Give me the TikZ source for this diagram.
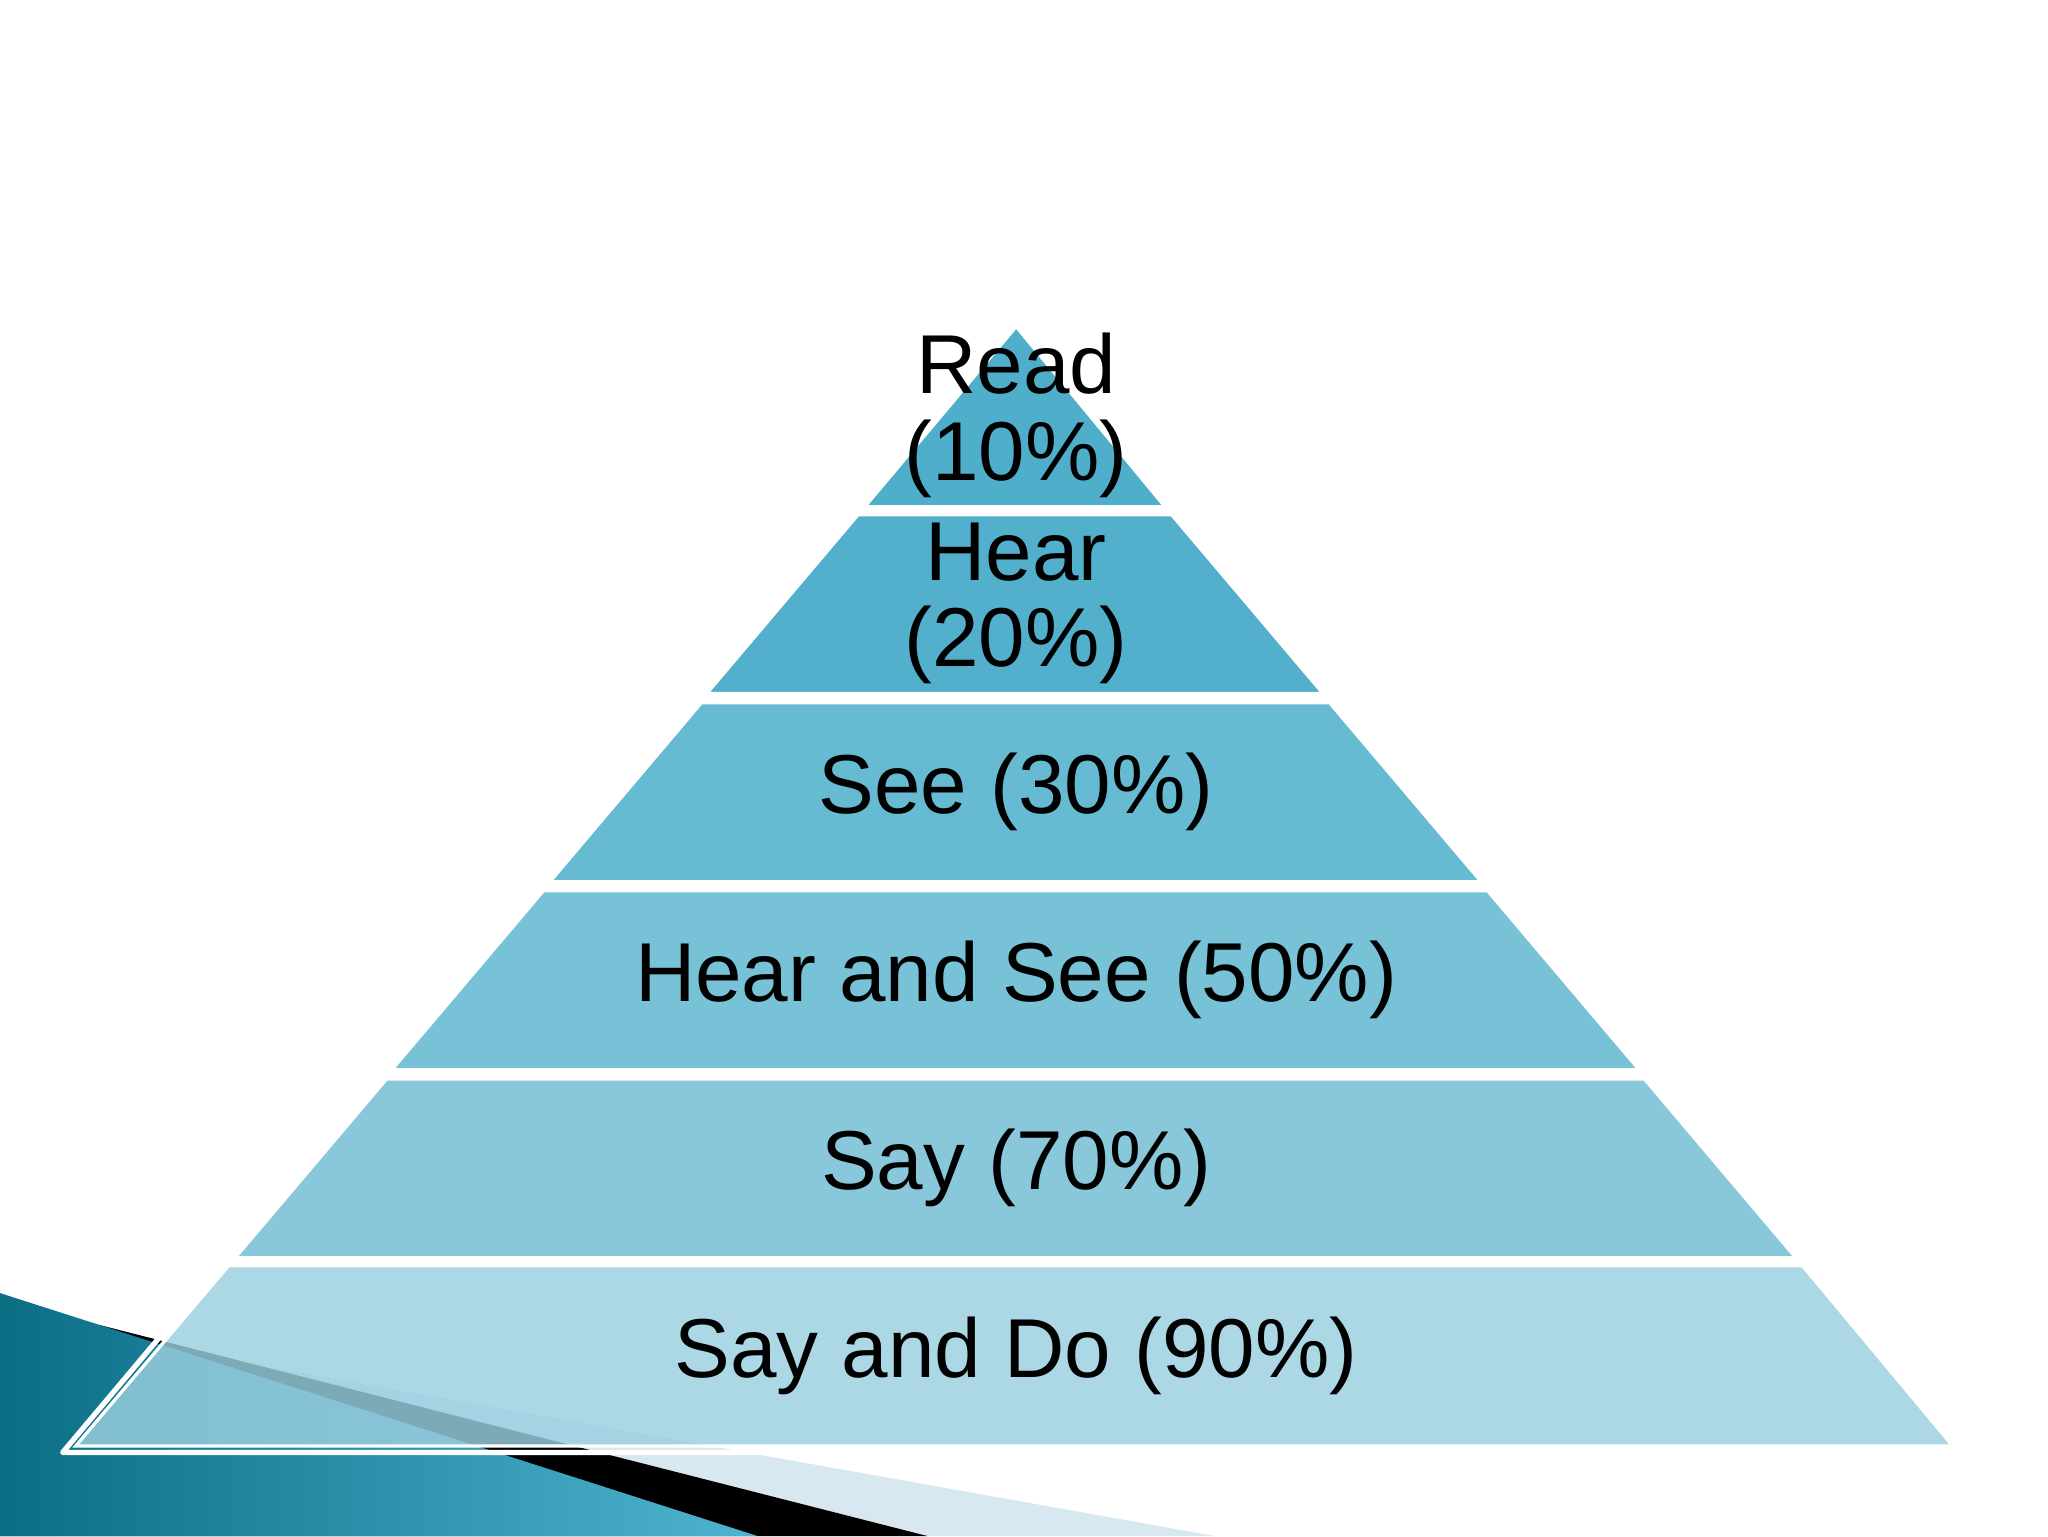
\documentclass[tikz,border=0pt]{standalone}
\usepackage{fontspec}
\setmainfont{Liberation Sans}
\definecolor{cA}{HTML}{4FAFCB}
\definecolor{cB}{HTML}{52B0CC}
\definecolor{cC}{HTML}{66BBD2}
\definecolor{cD}{HTML}{77C2D7}
\definecolor{cE}{HTML}{88C8DA}
\definecolor{cF}{HTML}{9ACFE0}
\definecolor{tealdark}{HTML}{0A6E85}
\definecolor{teallight}{HTML}{4FB4D0}
\definecolor{pale}{HTML}{D8E8F1}
\begin{document}
\begin{tikzpicture}[x=1pt,y=-1pt,
  layer/.style={draw=white,line width=2.5pt,line join=miter},
  lbl/.style={font=\fontsize{64}{66}\selectfont,align=center,text=black}]
\useasboundingbox (0,0) rectangle (1568,1176);
\fill[white] (0,0) rectangle (1568,1176);
% background decoration
\fill[pale] (0,1010) -- (930,1176) -- (0,1176) -- cycle;
\fill[black] (0,995) -- (710,1176) -- (0,1176) -- cycle;
\shade[left color=tealdark,right color=teallight] (0,990) -- (580,1176) -- (0,1176) -- cycle;
% pyramid outer frame
\draw[white,line width=4pt,line join=round] (778,244) -- (1502,1112) -- (48,1112) -- cycle;
% layers
\path[layer,fill=cA] (778,250) -- (892,388) -- (662,388) -- cycle;
\path[layer,fill=cB] (657,394) -- (897,394) -- (1013,531) -- (541,531) -- cycle;
\path[layer,fill=cC] (537,538) -- (1018,538) -- (1134,675) -- (421,675) -- cycle;
\path[layer,fill=cD] (416,682) -- (1139,682) -- (1255,819) -- (300,819) -- cycle;
\path[layer,fill=cE] (296,826) -- (1259,826) -- (1375,963) -- (180,963) -- cycle;
\path[layer,fill=cF,fill opacity=0.82] (175,969) -- (1380,969) -- (1495,1107) -- (58,1107) -- cycle;
\node[lbl] (read) at (778,318) {Read\\(10\%)};
\node[lbl] (hear) at (778,462) {Hear\\(20\%)};
\node[lbl] (see) at (778,606) {See (30\%)};
\node[lbl] (hs) at (778,750) {Hear and See (50\%)};
\node[lbl] (say) at (778,894) {Say (70\%)};
\node[lbl] (sd) at (778,1038) {Say and Do (90\%)};
\end{tikzpicture}
\end{document}
